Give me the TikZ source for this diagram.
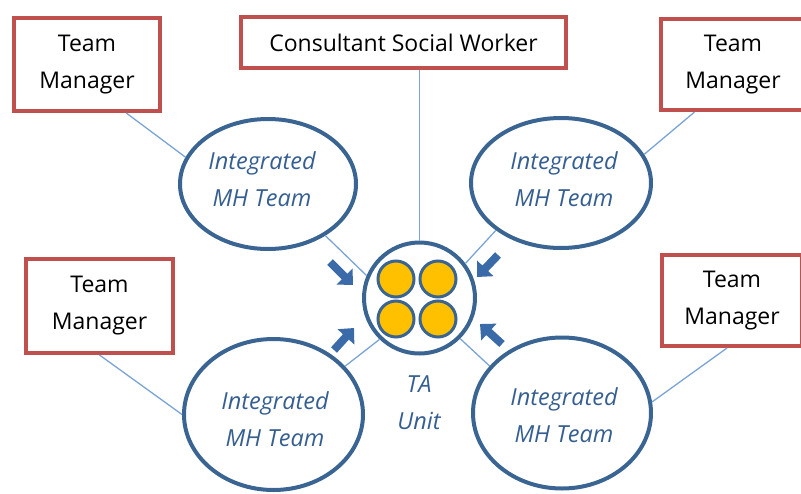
\documentclass[tikz,border=0pt]{standalone}
\usepackage{fontspec}
\setmainfont{Open Sans}
\usetikzlibrary{arrows.meta,shapes.geometric}

\definecolor{boxred}{HTML}{C0504D}
\definecolor{ringblue}{HTML}{3A6593}
\definecolor{labelblue}{HTML}{365F91}
\definecolor{linkblue}{HTML}{7BA4D6}
\definecolor{pointerblue}{HTML}{3A6AA8}
\definecolor{podyellow}{HTML}{FFC000}

\tikzset{
  rolebox/.style={draw=boxred, line width=4pt, fill=white, rectangle,
    inner sep=0pt, align=center, font=\fontsize{23}{37}\selectfont},
  teamring/.style={draw=ringblue, line width=4pt, fill=white, ellipse,
    inner sep=0pt},
  teamlabel/.style={align=center, text=labelblue, inner sep=0pt,
    font=\fontsize{23.5}{37}\selectfont\itshape},
  hubring/.style={draw=ringblue, line width=4pt, fill=white, circle,
    inner sep=0pt, minimum size=111pt},
  pod/.style={draw=ringblue, line width=3pt, fill=podyellow, circle,
    inner sep=0pt, minimum size=36pt},
  link/.style={draw=linkblue, line width=1.3pt},
  pointer/.style={draw=pointerblue, line width=8pt,
    -{Triangle[width=22pt,length=12pt]}},
}

\begin{document}
\begin{tikzpicture}[x=1pt,y=-1pt]
\useasboundingbox (0,0) rectangle (801,493);
\clip (0,0) rectangle (801,493);

% role boxes
\node[rolebox, minimum width=146pt, minimum height=93pt] (tmA) at (87,64.5) {Team\\Manager};
\node[rolebox, minimum width=325pt, minimum height=51pt] (csw) at (403.5,42.5) {Consultant Social Worker};
\node[rolebox, minimum width=144pt, minimum height=91pt] (tmB) at (733,64.5) {Team\\Manager};
\node[rolebox, minimum width=147pt, minimum height=94pt] (tmC) at (99.5,306) {Team\\Manager};
\node[rolebox, minimum width=140pt, minimum height=91pt] (tmD) at (732,300.5) {Team\\Manager};

% team ellipses and their labels
\node[teamring, minimum width=176pt, minimum height=130pt] (imA) at (268,184) {};
\node[teamring, minimum width=180pt, minimum height=130pt] (imB) at (561,183) {};
\node[teamring, minimum width=179pt, minimum height=151pt] (imC) at (273.5,414.5) {};
\node[teamring, minimum width=178pt, minimum height=151pt] (imD) at (562,413) {};
\node[teamlabel] (imAtext) at (262,179) {Integrated\\MH Team};
\node[teamlabel] (imBtext) at (564,179) {Integrated\\MH Team};
\node[teamlabel] (imCtext) at (275,419) {Integrated\\MH Team};
\node[teamlabel] (imDtext) at (564,415) {Integrated\\MH Team};

% central unit
\node[hubring] (hub) at (419.5,298) {};
\node[pod] (podA) at (396,279) {};
\node[pod] (podB) at (438,279) {};
\node[pod] (podC) at (396,319) {};
\node[pod] (podD) at (438,319) {};
\node[teamlabel] (hubname) at (419,403) {TA\\Unit};

% connectors
\draw[link] (hub.north |- csw.south) -- (hub.north);
\draw[link] (tmA.-51) -- (imA.162);
\draw[link] (tmB.231) -- (imB.19.7);
\draw[link] (tmC.-90) -- (imC.180);
\draw[link] (tmD.-96) -- (imD.7);
\draw[link] (imA.-42.7) -- (hub.157);
\draw[link] (imB.216.7) -- (hub.37);
\draw[link] (imC.34) -- (hub.226.5);
\draw[link] (imD.147.6) -- (hub.315);

% arrows pointing into the unit
\coordinate (pAt) at (330,262); \coordinate (pAh) at (353,285);
\coordinate (pBt) at (498,255); \coordinate (pBh) at (477,277);
\coordinate (pCt) at (334,350); \coordinate (pCh) at (354,328);
\coordinate (pDt) at (502,344); \coordinate (pDh) at (480,324);
\draw[pointer] (pAt) -- (pAh);
\draw[pointer] (pBt) -- (pBh);
\draw[pointer] (pCt) -- (pCh);
\draw[pointer] (pDt) -- (pDh);
\end{tikzpicture}
\end{document}
